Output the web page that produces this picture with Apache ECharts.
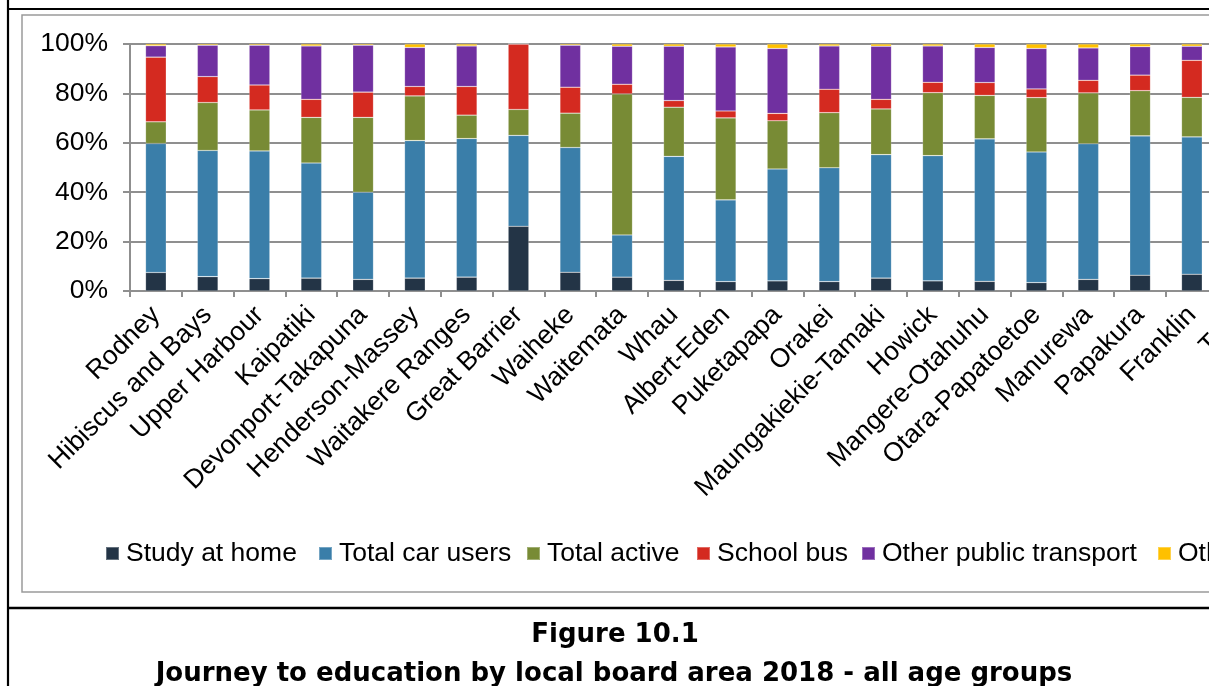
<!DOCTYPE html>
<html>
<head>
<meta charset="utf-8">
<title>Journey to education by local board area 2018</title>
<script src="https://cdn.jsdelivr.net/npm/echarts@6/dist/echarts.min.js"></script>
<style>
  html, body { margin: 0; padding: 0; width: 1209px; height: 686px; overflow: hidden; background: #ffffff; }
  /* The figure is wider than the page; its right edge runs past the window. */
  #chart { position: absolute; left: 0; top: 0; width: 1340px; height: 686px; }
</style>
</head>
<body>
<div id="chart"></div>
<script>
// Local board areas (the last column is the Auckland total)
const categories = [
  'Rodney', 'Hibiscus and Bays', 'Upper Harbour', 'Kaipatiki', 'Devonport-Takapuna',
  'Henderson-Massey', 'Waitakere Ranges', 'Great Barrier', 'Waiheke', 'Waitemata',
  'Whau', 'Albert-Eden', 'Puketapapa', 'Orakei', 'Maungakiekie-Tamaki', 'Howick',
  'Mangere-Otahuhu', 'Otara-Papatoetoe', 'Manurewa', 'Papakura', 'Franklin', 'Total'
];

// Share of journeys to education by mode (%)
const studyAtHome   = [7.5, 5.8, 5.0, 5.2, 4.7, 5.2, 5.6, 26.2, 7.6, 5.6, 4.3, 3.8, 4.1, 3.8, 5.2, 4.1, 3.9, 3.4, 4.7, 6.4, 6.8, 5.3];
const totalCarUsers = [52.2, 51.1, 51.7, 46.6, 35.3, 55.7, 56.1, 36.8, 50.5, 17.1, 50.2, 33.1, 45.3, 46.1, 50.0, 50.7, 57.7, 52.9, 54.9, 56.4, 55.6, 50.5];
const totalActive   = [8.8, 19.4, 16.6, 18.5, 30.3, 18.1, 9.5, 10.5, 13.9, 57.1, 19.9, 33.2, 19.5, 22.3, 18.5, 25.5, 17.6, 22.0, 20.6, 18.3, 16.0, 21.5];
const schoolBus     = [26.2, 10.5, 10.1, 7.3, 10.2, 3.8, 11.6, 26.5, 10.5, 3.9, 2.7, 2.8, 3.0, 9.5, 3.9, 4.2, 5.2, 3.5, 5.1, 6.3, 15.0, 6.0];
const otherPublic   = [4.6, 12.7, 16.1, 21.6, 19.0, 15.8, 16.4, 0.0, 17.0, 15.4, 22.0, 25.9, 26.3, 17.5, 21.5, 14.7, 14.2, 16.4, 13.1, 11.5, 5.7, 15.7];
const otherMode     = [0.7, 0.5, 0.5, 0.8, 0.5, 1.4, 0.8, 0.0, 0.5, 0.9, 0.9, 1.2, 1.8, 0.8, 0.9, 0.8, 1.4, 1.8, 1.6, 1.1, 0.9, 1.0];

// Y axis ticks (%)
const yTicks = [0, 20, 40, 60, 80, 100];

const seriesNames  = ['Study at home', 'Total car users', 'Total active', 'School bus', 'Other public transport', 'Other'];
const seriesValues = [studyAtHome, totalCarUsers, totalActive, schoolBus, otherPublic, otherMode];
const seriesColors = ['#233446', '#3a7ea9', '#788b35', '#d42a20', '#7030a0', '#ffc000'];
const legendLefts  = [100, 313, 521, 691, 856, 1152];

const FONT = '"Liberation Sans", Arial, sans-serif';
const TITLE_FONT = '"DejaVu Sans", Verdana, sans-serif';
const LABEL_SIZE = 26.5;
const GRID = '#8f8f8f';

const chart = echarts.init(document.getElementById('chart'), null, { renderer: 'canvas' });

const option = {
  animation: false,
  backgroundColor: '#ffffff',
  title: [
    {
      text: 'Figure 10.1',
      left: 610, top: 617, textAlign: 'center',
      textStyle: { fontFamily: TITLE_FONT, fontWeight: 'bold', fontSize: 26, color: '#000' }
    },
    {
      text: 'Journey to education by local board area 2018 - all age groups',
      left: 609, top: 656, textAlign: 'center',
      textStyle: { fontFamily: TITLE_FONT, fontWeight: 'bold', fontSize: 26, color: '#000' }
    }
  ],
  legend: seriesNames.map((name, i) => ({
    data: [name],
    left: legendLefts[i],
    top: 535,
    icon: 'rect',
    itemWidth: 13,
    itemHeight: 13,
    itemGap: 0,
    textStyle: { fontFamily: FONT, fontSize: LABEL_SIZE, color: '#000', padding: [0, 0, 0, 2] },
    selectedMode: false
  })),
  grid: { left: 130, top: 44, width: 1139.6, height: 247, containLabel: false },
  xAxis: {
    type: 'category',
    data: categories,
    boundaryGap: true,
    axisLine: { show: true, lineStyle: { color: GRID, width: 2 } },
    axisTick: { show: true, alignWithLabel: false, interval: 0, length: 6, lineStyle: { color: GRID, width: 2 } },
    axisLabel: { interval: 0, rotate: 45, margin: 20, fontFamily: FONT, fontSize: LABEL_SIZE, color: '#000' }
  },
  yAxis: {
    type: 'value',
    min: yTicks[0],
    max: yTicks[yTicks.length - 1],
    interval: yTicks[1] - yTicks[0],
    axisLine: { show: true, lineStyle: { color: GRID, width: 2 } },
    axisTick: { show: true, length: 7, lineStyle: { color: GRID, width: 2 } },
    axisLabel: { formatter: '{value}%', margin: 22, fontFamily: FONT, fontSize: LABEL_SIZE, color: '#000' },
    splitLine: { show: true, lineStyle: { color: GRID, width: 2 } }
  },
  series: seriesNames.map((name, i) => ({
    name: name,
    type: 'bar',
    stack: 'mode',
    barWidth: '40%',
    data: seriesValues[i],
    itemStyle: { color: seriesColors[i], borderColor: 'rgba(255,255,255,0.3)', borderWidth: 0.6 }
  })),
  graphic: [
    // chart area border
    { type: 'rect', silent: true, z: -1, shape: { x: 22, y: 15, width: 1400, height: 577 },
      style: { fill: null, stroke: '#9a9a9a', lineWidth: 1.5 } },
    // figure frame
    { type: 'line', silent: true, shape: { x1: 8, y1: 0, x2: 8, y2: 686 }, style: { stroke: '#000', lineWidth: 2.2 } },
    { type: 'line', silent: true, shape: { x1: 8, y1: 9, x2: 1340, y2: 9 }, style: { stroke: '#000', lineWidth: 2.2 } },
    { type: 'line', silent: true, shape: { x1: 8, y1: 608, x2: 1340, y2: 608 }, style: { stroke: '#000', lineWidth: 2.4 } }
  ]
};

chart.setOption(option);
</script>
</body>
</html>
